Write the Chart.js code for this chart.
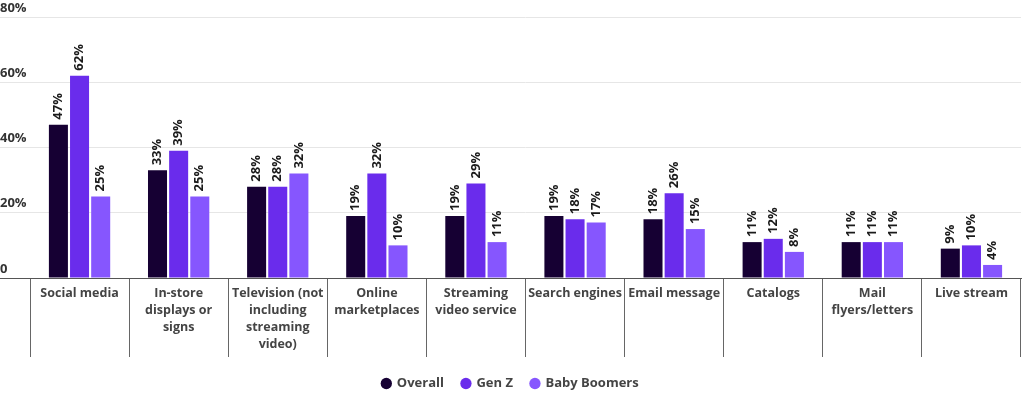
<!DOCTYPE html>
<html>
<head>
<meta charset="utf-8">
<script src="https://cdn.jsdelivr.net/npm/chart.js@4"></script>
<style>
  body { margin: 0; background: #fff; }
  #wrap { width: 1024px; height: 395px; position: relative; }
</style>
</head>
<body>
<div id="wrap"><canvas id="channelsChart"></canvas></div>
<script>
const categories = [
    'Social media',
    ['In-store', 'displays or', 'signs'],
    ['Television (not', 'including', 'streaming', 'video)'],
    ['Online', 'marketplaces'],
    ['Streaming', 'video service'],
    'Search engines',
    'Email message',
    'Catalogs',
    ['Mail', 'flyers/letters'],
    'Live stream'
];
const overall = [47, 33, 28, 19, 19, 19, 18, 11, 11, 9];
const genZ = [62, 39, 28, 32, 29, 18, 26, 12, 11, 10];
const boomers = [25, 25, 32, 10, 11, 17, 15, 8, 11, 4];
const yTicks = [0, 20, 40, 60, 80];

const FONT = "'Open Sans', sans-serif";

// values written sideways above each bar
const barValues = {
    id: 'barValues',
    afterDatasetsDraw(chart) {
        const ctx = chart.ctx;
        ctx.save();
        ctx.font = `bold 13px ${FONT}`;
        ctx.fillStyle = '#1a1a1a';
        ctx.textAlign = 'left';
        ctx.textBaseline = 'middle';
        chart.data.datasets.forEach((ds, i) => {
            chart.getDatasetMeta(i).data.forEach((bar, j) => {
                ctx.save();
                ctx.translate(bar.x, bar.y - 5);
                ctx.rotate(-Math.PI / 2);
                ctx.fillText(ds.data[j] + '%', 0, 0);
                ctx.restore();
            });
        });
        ctx.restore();
    }
};

new Chart(document.getElementById('channelsChart'), {
    type: 'bar',
    data: {
        labels: categories,
        datasets: [
            { label: 'Overall', data: overall, backgroundColor: '#160033' },
            { label: 'Gen Z', data: genZ, backgroundColor: '#6a2cec' },
            { label: 'Baby Boomers', data: boomers, backgroundColor: '#8656fe' }
        ]
    },
    options: {
        responsive: true,
        maintainAspectRatio: false,
        animation: false,
        layout: { padding: { top: 17, right: 3, left: 0, bottom: -5 } },
        datasets: {
            bar: { categoryPercentage: 0.64, barPercentage: 0.9 }
        },
        plugins: {
            legend: {
                position: 'bottom',
                labels: {
                    usePointStyle: true,
                    pointStyle: 'circle',
                    boxWidth: 8,
                    boxHeight: 8,
                    padding: 18,
                    color: '#444',
                    font: { family: FONT, size: 13, weight: 'bold' }
                }
            },
            tooltip: { enabled: false }
        },
        scales: {
            x: {
                grid: {
                    offset: true,
                    drawOnChartArea: false,
                    tickLength: 79,
                    color: '#666'
                },
                border: { display: true, color: '#555' },
                ticks: {
                    padding: -72,
                    color: '#444',
                    font: { family: FONT, size: 12.5, weight: 'bold', lineHeight: 1.36 },
                    maxRotation: 0,
                    autoSkip: false
                },
                afterFit: scale => { scale.height = 81; }
            },
            y: {
                min: 0,
                max: 80,
                afterBuildTicks: scale => { scale.ticks = yTicks.map(v => ({ value: v })); },
                grid: {
                    tickLength: 30,
                    color: c => c.tick && c.tick.value === 0 ? '#555' : '#e6e6e6'
                },
                border: { display: false },
                ticks: {
                    mirror: true,
                    padding: -30,
                    labelOffset: -9,
                    color: '#333',
                    font: { family: FONT, size: 13, weight: 'bold' },
                    callback: v => v === 0 ? '0' : v + '%'
                },
                afterFit: scale => { scale.width = 30; }
            }
        }
    },
    plugins: [barValues]
});
</script>
</body>
</html>
